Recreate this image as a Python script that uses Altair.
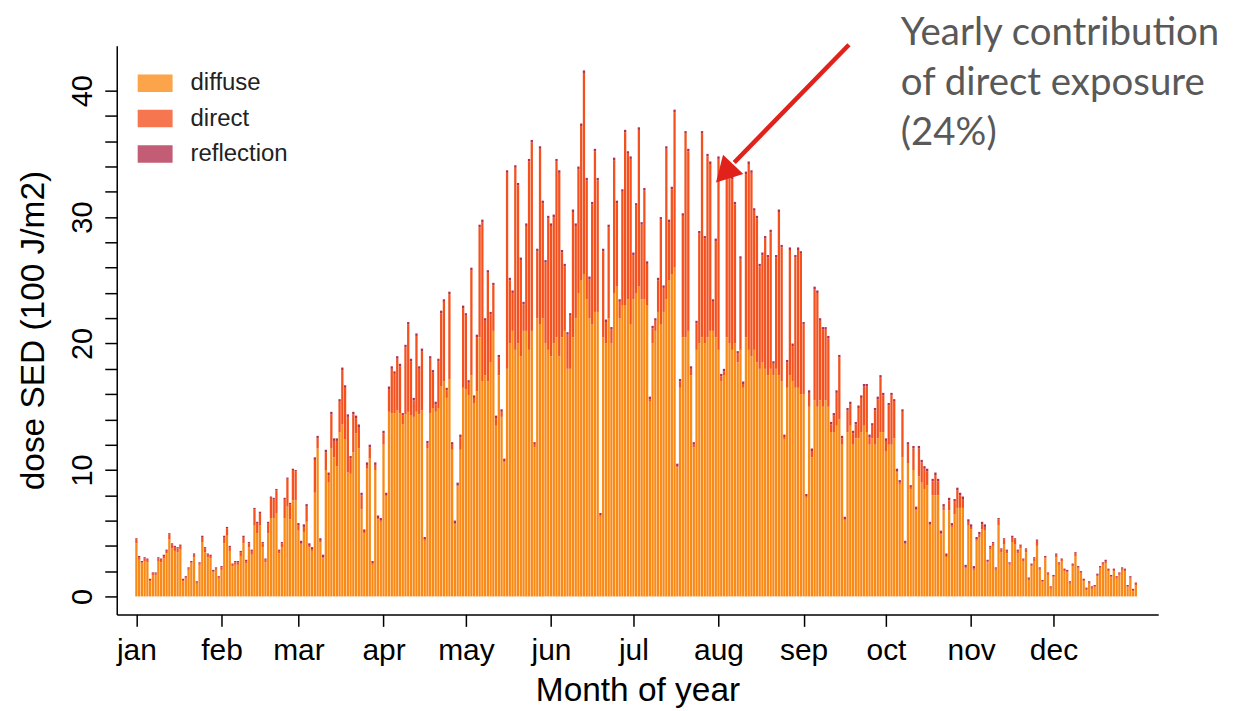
import altair as alt
import pandas as pd

# ---------------- data ----------------
months = ["jan", "feb", "mar", "apr", "may", "jun", "jul", "aug", "sep", "oct", "nov", "dec"]
month_start = [1, 32, 60, 91, 121, 152, 182, 213, 244, 274, 305, 335]
components = ["diffuse", "direct", "reflection"]
bar_colors = ["#FA8A17", "#F4511E", "#B22E4E"]

diffuse_jan = [4.2, 2.9, 2.6, 2.8, 2.7, 1.2, 1.7, 1.7, 2.8, 2.7, 3.0, 3.4, 4.5, 3.8, 3.6, 3.5, 3.7, 1.2, 1.4, 2.1, 2.6, 3.1, 1.0, 2.5, 4.3, 3.5, 3.1, 3.0, 1.9, 2.1, 1.4]
direct_jan = [0.3, 0.2, 0.1, 0.2, 0.2, 0.1, 0.1, 0.1, 0.2, 0.2, 0.2, 0.2, 0.4, 0.3, 0.3, 0.3, 0.3, 0.1, 0.1, 0.1, 0.1, 0.2, 0.1, 0.1, 0.4, 0.3, 0.2, 0.2, 0.1, 0.1, 0.1]
reflection_jan = [0.1, 0.1, 0.1, 0.1, 0.1, 0.1, 0.1, 0.1, 0.1, 0.1, 0.1, 0.1, 0.1, 0.1, 0.1, 0.1, 0.1, 0.1, 0.1, 0.1, 0.1, 0.1, 0.1, 0.1, 0.1, 0.1, 0.1, 0.1, 0.1, 0.1, 0.1]

diffuse_feb = [2.1, 4.2, 4.8, 3.6, 2.4, 2.5, 2.5, 3.2, 4.2, 2.6, 3.9, 3.3, 5.6, 5.0, 5.6, 3.9, 2.7, 5.0, 6.2, 6.2, 6.6, 3.4, 3.9, 6.2, 7.1, 6.1, 7.6, 7.6]
direct_feb = [0.2, 0.5, 0.6, 0.3, 0.1, 0.2, 0.2, 0.3, 0.5, 0.2, 0.3, 0.3, 1.3, 0.8, 1.0, 0.3, 0.2, 0.8, 1.6, 1.5, 1.8, 0.2, 0.3, 1.5, 2.2, 1.2, 2.4, 2.3]
reflection_feb = [0.1, 0.1, 0.1, 0.1, 0.1, 0.1, 0.1, 0.1, 0.1, 0.1, 0.1, 0.1, 0.1, 0.1, 0.1, 0.1, 0.1, 0.1, 0.1, 0.1, 0.1, 0.1, 0.1, 0.1, 0.1, 0.1, 0.1, 0.1]

diffuse_mar = [5.2, 4.1, 5.1, 5.9, 3.9, 3.6, 8.2, 11.7, 4.3, 3.0, 10.0, 9.0, 11.7, 11.0, 10.3, 13.0, 13.6, 12.4, 9.8, 9.7, 11.4, 12.9, 11.7, 6.9, 5.0, 10.1, 10.9, 2.5, 10.0, 6.1, 5.9]
direct_mar = [0.4, 0.1, 0.4, 1.2, 0.1, 0.1, 2.6, 0.8, 0.1, 0.1, 1.4, 0.6, 2.7, 1.3, 2.0, 2.4, 4.3, 4.1, 4.4, 1.2, 3.0, 1.2, 1.7, 1.1, 0.1, 0.3, 0.9, 0.1, 0.4, 0.1, 0.1]
reflection_mar = [0.2, 0.2, 0.2, 0.2, 0.2, 0.2, 0.2, 0.2, 0.2, 0.2, 0.2, 0.2, 0.2, 0.2, 0.2, 0.2, 0.2, 0.2, 0.2, 0.2, 0.2, 0.2, 0.2, 0.2, 0.2, 0.2, 0.2, 0.2, 0.2, 0.2, 0.2]

diffuse_apr = [12.0, 7.9, 14.6, 14.5, 14.5, 14.7, 14.5, 13.6, 14.4, 14.6, 14.3, 14.2, 14.6, 14.4, 14.7, 4.4, 11.7, 14.5, 14.9, 14.6, 14.9, 16.6, 17.0, 15.7, 17.2, 11.6, 5.7, 8.7, 11.6, 16.5]
direct_apr = [0.9, 0.1, 1.8, 3.5, 3.1, 4.1, 3.7, 0.7, 5.3, 6.9, 4.3, 1.3, 6.0, 3.6, 4.7, 0.1, 0.4, 4.3, 2.8, 0.6, 3.7, 5.8, 6.3, 0.6, 6.7, 0.4, 0.1, 0.1, 1.0, 6.3]
reflection_apr = [0.2, 0.2, 0.2, 0.2, 0.2, 0.2, 0.2, 0.2, 0.2, 0.2, 0.2, 0.2, 0.2, 0.2, 0.2, 0.2, 0.2, 0.2, 0.2, 0.2, 0.2, 0.2, 0.2, 0.2, 0.2, 0.2, 0.2, 0.2, 0.2, 0.2]

diffuse_may = [16.4, 15.9, 17.5, 15.3, 16.2, 20.5, 17.0, 17.5, 17.0, 18.5, 21.0, 13.5, 17.5, 14.2, 10.6, 18.0, 20.0, 21.0, 19.5, 20.0, 19.0, 21.0, 21.0, 19.5, 21.0, 11.8, 22.0, 21.5, 22.0, 20.0, 19.5]
direct_may = [5.8, 1.0, 8.3, 0.4, 4.3, 8.7, 12.6, 4.3, 8.6, 3.8, 3.6, 0.6, 1.4, 0.4, 0.1, 15.5, 5.0, 3.0, 14.4, 12.5, 7.6, 2.1, 8.3, 14.9, 14.9, 0.2, 5.3, 13.9, 9.1, 6.4, 10.4]
reflection_may = [0.2, 0.2, 0.2, 0.2, 0.2, 0.2, 0.2, 0.2, 0.2, 0.2, 0.2, 0.2, 0.2, 0.2, 0.2, 0.2, 0.2, 0.2, 0.2, 0.2, 0.2, 0.2, 0.2, 0.2, 0.2, 0.2, 0.2, 0.2, 0.2, 0.2, 0.2]

diffuse_jun = [19.0, 20.0, 20.5, 19.0, 20.5, 21.0, 18.0, 18.0, 20.5, 22.0, 24.0, 25.0, 25.5, 23.5, 22.0, 21.5, 22.5, 22.5, 6.3, 20.5, 20.0, 22.0, 20.0, 24.0, 24.5, 22.0, 23.0, 23.0, 23.5, 21.5]
direct_jun = [10.3, 10.0, 13.9, 14.5, 6.7, 5.1, 2.7, 4.2, 9.9, 7.3, 9.8, 12.2, 15.9, 9.4, 3.1, 9.5, 12.7, 10.4, 0.1, 6.8, 1.7, 7.2, 1.1, 10.5, 6.6, 1.3, 9.0, 13.7, 11.5, 13.1]
reflection_jun = [0.2, 0.2, 0.2, 0.2, 0.2, 0.2, 0.2, 0.2, 0.2, 0.2, 0.2, 0.2, 0.2, 0.2, 0.2, 0.2, 0.2, 0.2, 0.2, 0.2, 0.2, 0.2, 0.2, 0.2, 0.2, 0.2, 0.2, 0.2, 0.2, 0.2]

diffuse_jul = [23.5, 24.0, 24.5, 23.5, 23.5, 23.0, 15.4, 20.0, 21.0, 22.5, 21.5, 22.5, 23.5, 25.0, 25.5, 26.0, 10.2, 16.5, 20.5, 20.5, 21.0, 17.5, 11.8, 19.5, 20.0, 20.5, 20.0, 20.5, 21.0, 21.0, 20.5]
direct_jul = [3.5, 6.9, 12.4, 5.9, 8.6, 3.3, 0.2, 1.2, 0.8, 2.5, 8.3, 1.9, 11.9, 4.6, 6.7, 12.3, 0.1, 0.5, 9.6, 16.1, 14.2, 0.5, 0.2, 2.1, 8.7, 16.1, 8.3, 14.3, 13.2, 2.3, 7.6]
reflection_jul = [0.2, 0.2, 0.2, 0.2, 0.2, 0.2, 0.2, 0.2, 0.2, 0.2, 0.2, 0.2, 0.2, 0.2, 0.2, 0.2, 0.2, 0.2, 0.2, 0.2, 0.2, 0.2, 0.2, 0.2, 0.2, 0.2, 0.2, 0.2, 0.2, 0.2, 0.2]

diffuse_aug = [19.5, 17.0, 17.5, 20.5, 20.0, 19.5, 20.0, 18.5, 19.5, 16.5, 20.5, 19.5, 19.0, 19.5, 18.5, 18.0, 18.5, 18.0, 17.5, 18.0, 17.5, 18.0, 17.5, 17.0, 12.4, 16.5, 17.5, 17.0, 16.5, 16.5, 16.0]
direct_aug = [15.1, 0.4, 0.3, 12.6, 13.1, 13.5, 11.0, 0.7, 7.2, 0.3, 12.9, 14.7, 14.5, 11.0, 11.4, 8.1, 8.5, 10.3, 9.3, 10.8, 0.9, 8.8, 12.9, 10.6, 0.2, 2.0, 9.9, 2.8, 10.3, 10.9, 11.1]
reflection_aug = [0.2, 0.2, 0.2, 0.2, 0.2, 0.2, 0.2, 0.2, 0.2, 0.2, 0.2, 0.2, 0.2, 0.2, 0.2, 0.2, 0.2, 0.2, 0.2, 0.2, 0.2, 0.2, 0.2, 0.2, 0.2, 0.2, 0.2, 0.2, 0.2, 0.2, 0.2]

diffuse_sep = [16.0, 7.8, 15.0, 11.0, 15.5, 15.0, 15.5, 15.0, 15.5, 15.0, 13.0, 13.0, 13.5, 14.0, 12.0, 6.0, 13.0, 13.5, 12.0, 12.5, 12.5, 13.0, 13.5, 13.0, 12.0, 12.5, 12.0, 12.5, 13.0, 13.0]
direct_sep = [5.5, 0.1, 1.1, 0.5, 8.8, 9.0, 6.3, 6.1, 5.6, 5.4, 0.6, 1.3, 2.6, 4.9, 0.5, 0.1, 1.7, 1.7, 0.9, 1.1, 2.4, 2.7, 3.1, 3.6, 0.6, 1.0, 2.7, 3.1, 4.3, 2.9]
reflection_sep = [0.2, 0.2, 0.2, 0.2, 0.2, 0.2, 0.2, 0.2, 0.2, 0.2, 0.2, 0.2, 0.2, 0.2, 0.2, 0.2, 0.2, 0.2, 0.2, 0.2, 0.2, 0.2, 0.2, 0.2, 0.2, 0.2, 0.2, 0.2, 0.2, 0.2]

diffuse_oct = [11.5, 12.0, 12.0, 12.5, 9.8, 8.9, 11.0, 4.1, 10.5, 8.5, 10.0, 6.8, 9.5, 9.0, 8.5, 8.8, 5.6, 8.0, 8.0, 8.0, 4.9, 6.8, 3.1, 6.8, 5.5, 6.5, 7.0, 7.0, 7.0, 2.2, 5.6]
direct_oct = [0.8, 3.1, 3.9, 2.9, 0.1, 0.1, 3.6, 0.1, 1.5, 0.1, 1.7, 0.1, 2.2, 1.6, 1.6, 1.1, 0.1, 1.1, 1.6, 1.1, 0.1, 0.3, 0.1, 0.8, 0.1, 1.0, 1.4, 1.0, 0.7, 0.1, 0.3]
reflection_oct = [0.2, 0.2, 0.2, 0.2, 0.2, 0.2, 0.2, 0.2, 0.2, 0.2, 0.2, 0.2, 0.2, 0.2, 0.2, 0.2, 0.2, 0.2, 0.2, 0.2, 0.2, 0.2, 0.2, 0.2, 0.2, 0.2, 0.2, 0.2, 0.2, 0.2, 0.2]

diffuse_nov = [5.3, 2.1, 4.4, 4.7, 5.3, 5.2, 2.7, 3.7, 4.0, 2.1, 5.6, 3.5, 4.1, 3.4, 2.5, 4.3, 4.1, 3.4, 3.8, 2.8, 3.5, 1.3, 2.4, 2.8, 4.0, 2.1, 1.1, 3.0, 1.7, 0.6]
direct_nov = [0.2, 0.1, 0.1, 0.2, 0.4, 0.3, 0.1, 0.2, 0.2, 0.1, 0.5, 0.2, 0.4, 0.2, 0.1, 0.4, 0.4, 0.2, 0.2, 0.1, 0.2, 0.1, 0.1, 0.2, 0.4, 0.1, 0.1, 0.1, 0.1, 0.1]
reflection_nov = [0.2, 0.2, 0.2, 0.2, 0.2, 0.2, 0.1, 0.1, 0.1, 0.1, 0.1, 0.1, 0.1, 0.1, 0.1, 0.1, 0.1, 0.1, 0.1, 0.1, 0.1, 0.1, 0.1, 0.1, 0.1, 0.1, 0.1, 0.1, 0.1, 0.1]

diffuse_dec = [1.5, 3.1, 2.5, 2.8, 2.0, 1.9, 1.0, 2.4, 3.2, 2.2, 1.8, 1.2, 0.5, 1.0, 0.6, 0.7, 1.6, 2.2, 2.5, 2.6, 2.0, 1.5, 2.0, 1.4, 1.7, 2.1, 2.0, 0.7, 1.4, 0.4, 0.9]
direct_dec = [0.1, 0.2, 0.1, 0.1, 0.1, 0.1, 0.1, 0.1, 0.2, 0.1, 0.1, 0.1, 0.1, 0.1, 0.1, 0.1, 0.1, 0.1, 0.1, 0.2, 0.1, 0.1, 0.1, 0.1, 0.1, 0.1, 0.1, 0.1, 0.1, 0.1, 0.1]
reflection_dec = [0.1, 0.1, 0.1, 0.1, 0.1, 0.1, 0.1, 0.1, 0.1, 0.1, 0.1, 0.1, 0.1, 0.1, 0.1, 0.1, 0.1, 0.1, 0.1, 0.1, 0.1, 0.1, 0.1, 0.1, 0.1, 0.1, 0.1, 0.1, 0.1, 0.1, 0.1]

annotation_lines = ["Yearly contribution", "of direct exposure", "(24%)"]

# ---------------- assemble ----------------
diffuse = (diffuse_jan + diffuse_feb + diffuse_mar + diffuse_apr + diffuse_may + diffuse_jun
           + diffuse_jul + diffuse_aug + diffuse_sep + diffuse_oct + diffuse_nov + diffuse_dec)
direct = (direct_jan + direct_feb + direct_mar + direct_apr + direct_may + direct_jun
          + direct_jul + direct_aug + direct_sep + direct_oct + direct_nov + direct_dec)
reflection = (reflection_jan + reflection_feb + reflection_mar + reflection_apr + reflection_may
              + reflection_jun + reflection_jul + reflection_aug + reflection_sep + reflection_oct
              + reflection_nov + reflection_dec)

rows = []
for i in range(len(diffuse)):
    for k, (name, series) in enumerate(zip(components, [diffuse, direct, reflection])):
        rows.append({"day": i + 1, "component": name, "value": series[i], "ord": k})
df = pd.DataFrame(rows)

FONT = "Liberation Sans"
W, H = 1044, 570

x_axis = alt.Axis(
    values=month_start,
    labelExpr=f"{months}[indexof({month_start}, datum.value)]",
    grid=False, domainColor="black", domainWidth=1.5, tickColor="black", tickWidth=1.5,
    tickSize=12, labelFontSize=30, labelFont=FONT, labelColor="black",
    labelBaseline="alphabetic", labelPadding=33, labelFlush=False,
    title="Month of year", titleFont=FONT, titleFontSize=33.5, titleFontWeight="normal",
    titleColor="black", titleBaseline="alphabetic", titleY=86, titleX=W / 2,
)
y_axis = alt.Axis(
    values=list(range(0, 41, 2)),
    labelExpr="datum.value % 10 === 0 ? datum.label : ''",
    grid=False, domainColor="black", domainWidth=1.5, tickColor="black", tickWidth=1.5,
    tickSize=12, labelFontSize=29, labelFont=FONT, labelColor="black",
    labelAngle=270, labelAlign="center", labelBaseline="alphabetic", labelPadding=13,
    labelFlush=False,
    title="dose SED (100 J/m2)", titleFont=FONT, titleFontSize=33.5, titleFontWeight="normal",
    titleColor="black", titleAngle=270, titleAlign="center", titleBaseline="middle",
    titleX=-83, titleY=H / 2,
)

bars = alt.Chart(df).mark_bar(size=2.3).encode(
    x=alt.X("day:Q", scale=alt.Scale(domain=[-6.16, 373.14], nice=False, zero=False, padding=0),
            axis=x_axis),
    y=alt.Y("value:Q", stack="zero",
            scale=alt.Scale(domain=[-1.42, 43.55], nice=False, zero=False), axis=y_axis),
    color=alt.Color(
        "component:N",
        scale=alt.Scale(domain=components, range=bar_colors),
        legend=alt.Legend(
            title=None, orient="none", legendX=21, legendY=20,
            symbolType="M-1,-0.5H1V0.5H-1Z", symbolSize=1225, symbolOpacity=0.78,
            symbolStrokeWidth=0, labelFont=FONT, labelFontSize=24, labelColor="#222222",
            labelOffset=18, rowPadding=5.5, padding=0,
        ),
    ),
    order=alt.Order("ord:Q", sort="ascending"),
)

one = pd.DataFrame({"k": [0]})
ARROW = "#E0221B"
shaft = alt.Chart(one).mark_rule(color=ARROW, strokeWidth=4.5).encode(
    x=alt.value(734), y=alt.value(-1), x2=alt.value(619), y2=alt.value(117)
)
head = alt.Chart(one).mark_point(
    shape="M0,-1L0.84,0.5L-0.84,0.5Z", size=1111, angle=223.5, filled=True,
    color=ARROW, opacity=1,
).encode(x=alt.value(612.2), y=alt.value(124.9))
note = alt.Chart(one).mark_text(
    text=annotation_lines, font="Lato", fontSize=38.5, color="#595959",
    align="left", baseline="alphabetic", lineHeight=50,
).encode(x=alt.value(786), y=alt.value(-1))

chart = alt.layer(bars, shaft, head, note).properties(
    width=W, height=H,
    autosize=alt.AutoSizeParams(type="none"),
    padding={"left": 109, "top": 37, "right": 84, "bottom": 98},
    background="white",
).configure_view(stroke="transparent")

chart.save("out.html", embed_options={"renderer": "svg", "actions": False})
